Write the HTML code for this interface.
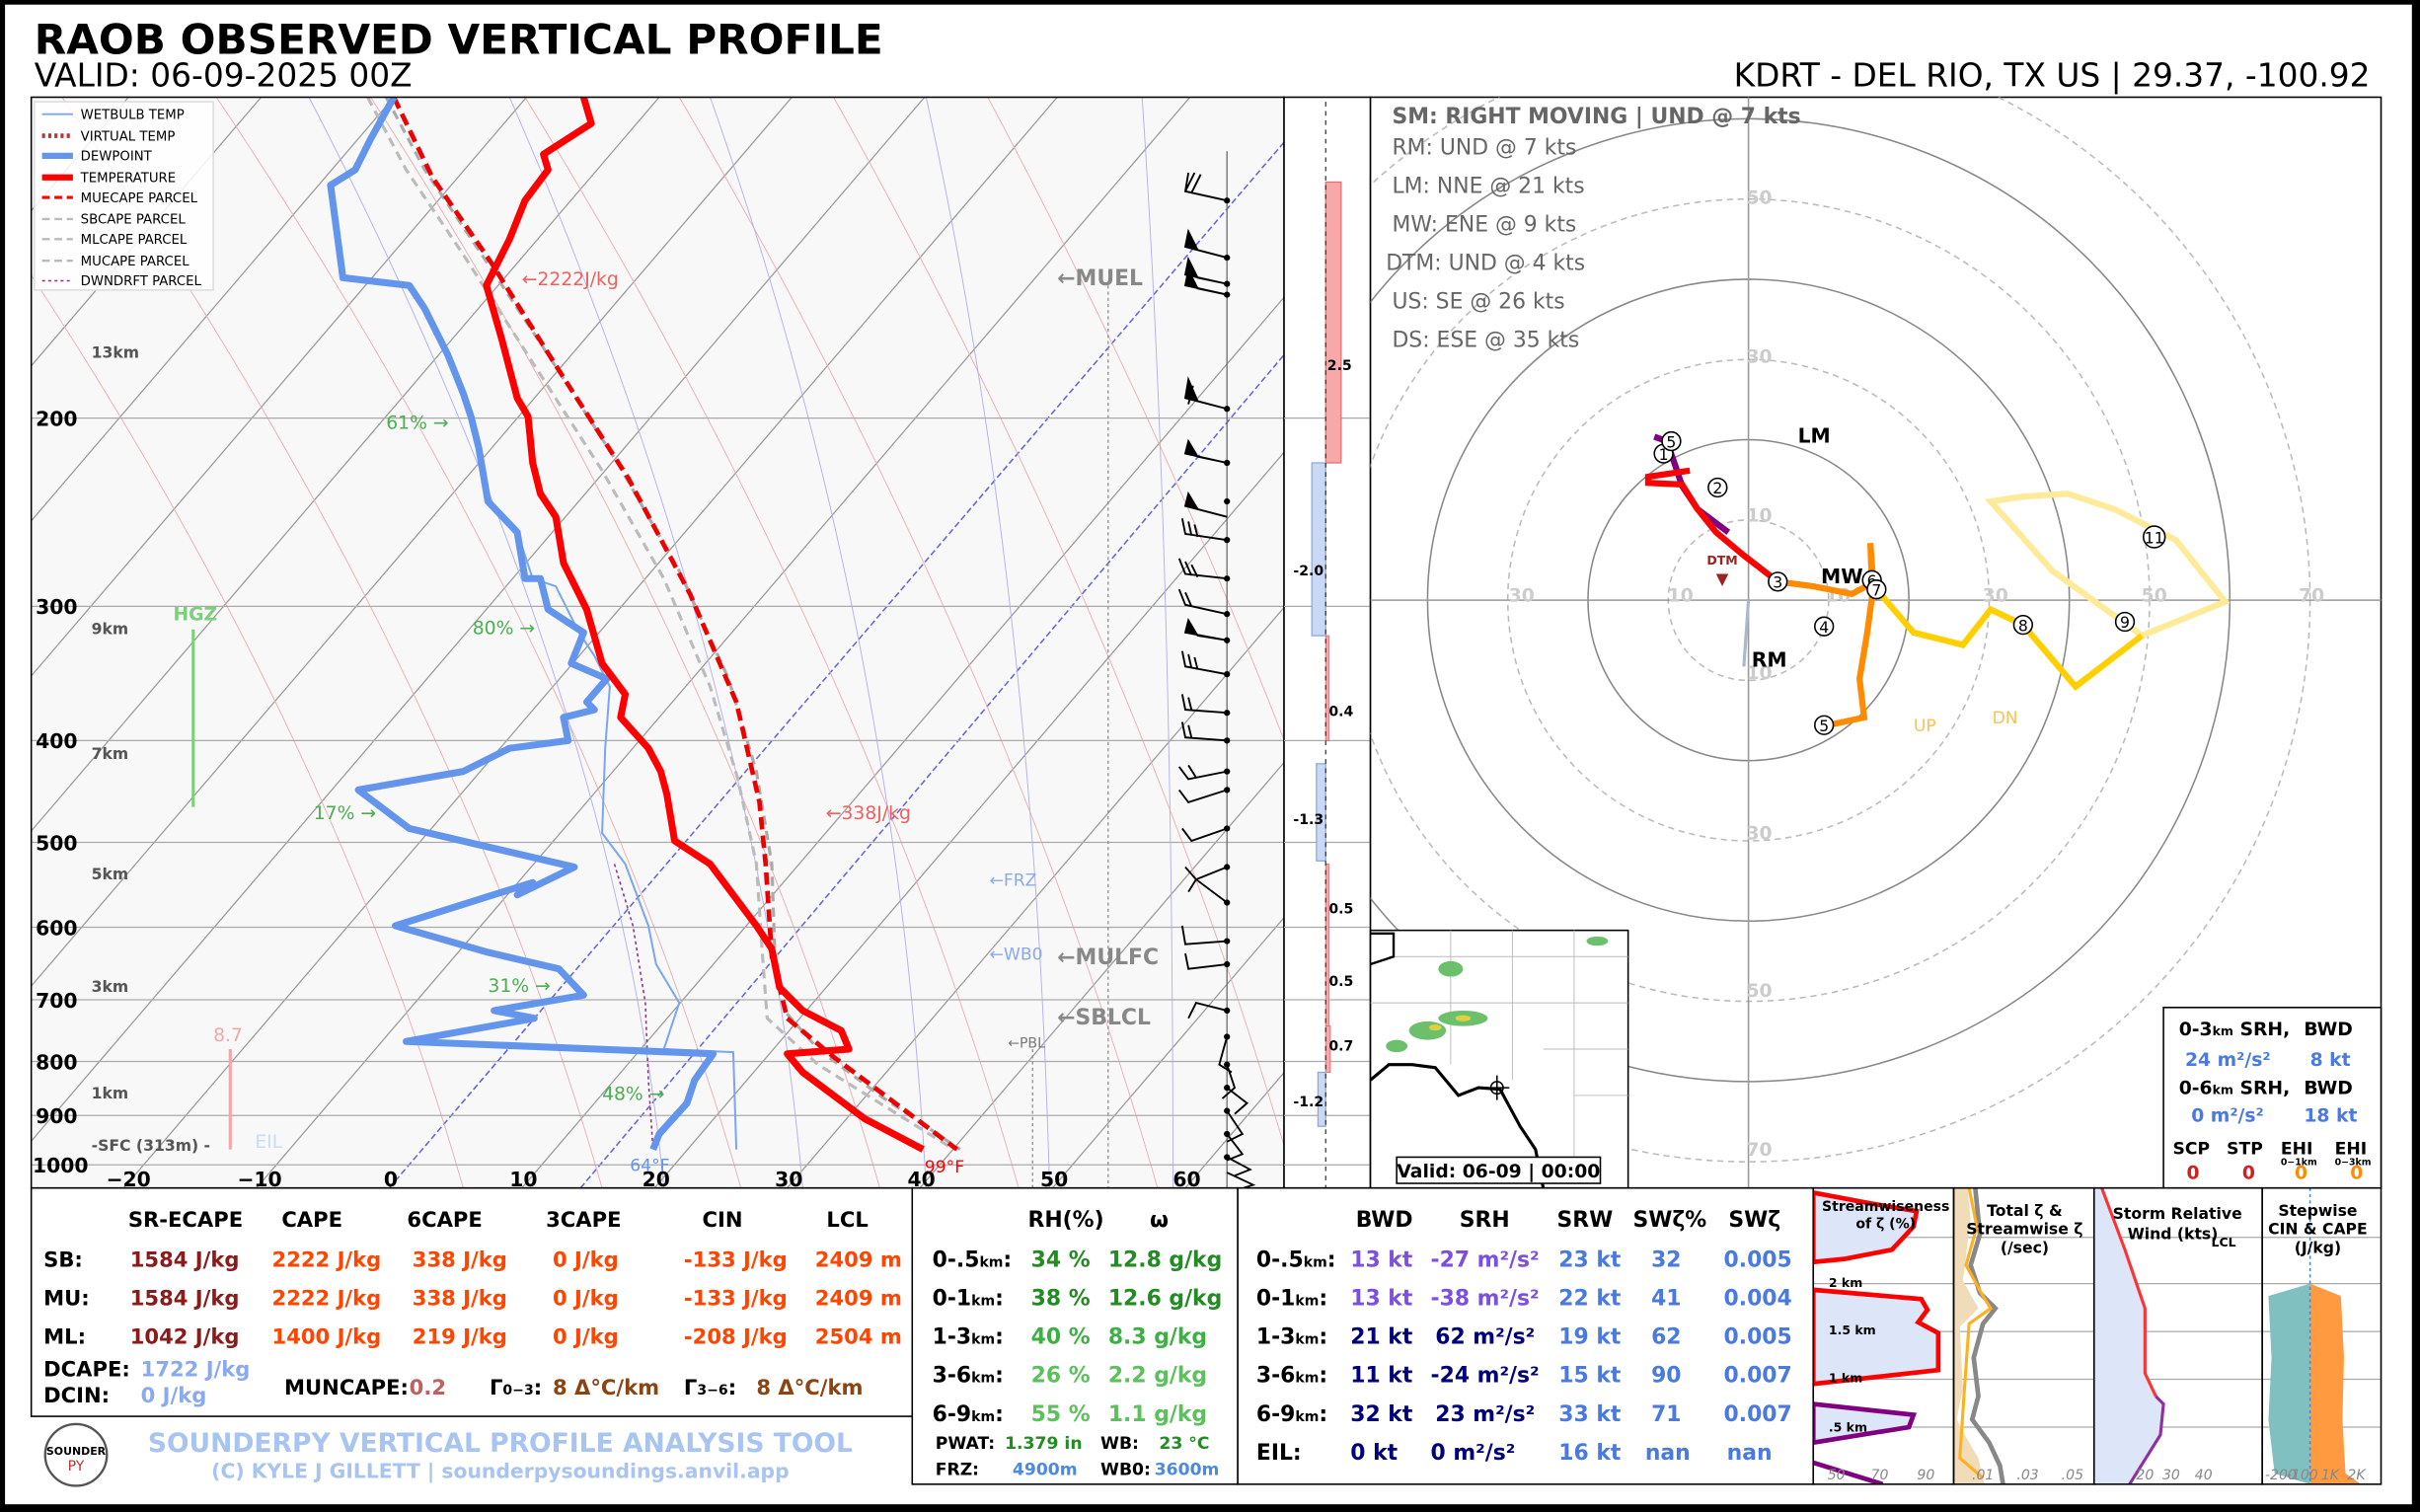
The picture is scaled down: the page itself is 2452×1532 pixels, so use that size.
<!DOCTYPE html>
<html><head><meta charset="utf-8"><style>
html,body{margin:0;padding:0;background:#000;}
svg{display:block;}
text{font-family:"DejaVu Sans","Liberation Sans",sans-serif;}
</style></head><body>
<svg width="2452" height="1532" viewBox="0 0 1568 980" xmlns="http://www.w3.org/2000/svg">
<defs>
<clipPath id="sk"><rect x="20" y="63" width="812" height="707"/></clipPath>
<clipPath id="hd"><rect x="888" y="63" width="655" height="707"/></clipPath>
<clipPath id="p1"><rect x="1175" y="770" width="91" height="192"/></clipPath>
<clipPath id="p2"><rect x="1266" y="770" width="91" height="192"/></clipPath>
<clipPath id="p3"><rect x="1357" y="770" width="109" height="192"/></clipPath>
<clipPath id="p4"><rect x="1466" y="770" width="77" height="192"/></clipPath>
</defs>
<rect x="0" y="0" width="1568" height="980" fill="#000"/>
<rect x="3" y="3" width="1560" height="972" fill="#fff"/>

<text x="22" y="35" font-size="27" font-weight="bold">RAOB OBSERVED VERTICAL PROFILE</text>
<text x="22" y="56" font-size="21">VALID: 06-09-2025 00Z</text>
<text x="1536" y="56" font-size="21" text-anchor="end">KDRT - DEL RIO, TX US | 29.37, -100.92</text>

<rect x="20" y="63" width="812" height="707" fill="#f8f8f8"/>
<g clip-path="url(#sk)">
 <g stroke="#999" stroke-width="0.8" fill="none">
  <line x1="-522" y1="770" x2="83" y2="63"/><line x1="-436" y1="770" x2="169" y2="63"/><line x1="-350" y1="770" x2="255" y2="63"/><line x1="-264" y1="770" x2="341" y2="63"/><line x1="-178" y1="770" x2="427" y2="63"/><line x1="-92" y1="770" x2="513" y2="63"/><line x1="-6" y1="770" x2="599" y2="63"/><line x1="80" y1="770" x2="685" y2="63"/><line x1="166" y1="770" x2="771" y2="63"/><line x1="338" y1="770" x2="943" y2="63"/><line x1="424" y1="770" x2="1029" y2="63"/><line x1="510" y1="770" x2="1115" y2="63"/><line x1="596" y1="770" x2="1201" y2="63"/><line x1="682" y1="770" x2="1287" y2="63"/><line x1="768" y1="770" x2="1373" y2="63"/>
 </g>
 <line x1="252" y1="770" x2="857" y2="63" stroke="#6666dd" stroke-width="1" stroke-dasharray="4,2"/>
 <line x1="376" y1="770" x2="973" y2="63" stroke="#6666dd" stroke-width="1" stroke-dasharray="4,2"/>
 <g stroke="#e8b0b0" stroke-width="0.6" fill="none">
  <path d="M300,770 Q200,420 -60,63"/><path d="M390,770 Q290,420 40,63"/><path d="M480,770 Q380,420 140,63"/><path d="M570,770 Q470,420 240,63"/><path d="M660,770 Q560,420 340,63"/><path d="M750,770 Q650,420 440,63"/><path d="M840,770 Q740,420 540,63"/><path d="M930,770 Q830,420 640,63"/>
 </g>
 <g stroke="#b0b0f0" stroke-width="0.6" fill="none">
  <path d="M430,770 Q400,450 200,63"/><path d="M520,770 Q490,430 330,63"/><path d="M600,770 Q580,400 460,63"/><path d="M680,770 Q670,380 600,63"/><path d="M760,770 Q760,360 740,63"/>
 </g>
 <g stroke="#aaa" stroke-width="0.8">
  <line x1="20" y1="271" x2="832" y2="271"/><line x1="20" y1="393" x2="832" y2="393"/><line x1="20" y1="480" x2="832" y2="480"/><line x1="20" y1="546" x2="832" y2="546"/><line x1="20" y1="601" x2="832" y2="601"/><line x1="20" y1="648" x2="832" y2="648"/><line x1="20" y1="688" x2="832" y2="688"/><line x1="20" y1="723" x2="832" y2="723"/><line x1="20" y1="755" x2="832" y2="755"/>
 </g>
 <line x1="718" y1="185" x2="718" y2="770" stroke="#888" stroke-dasharray="2,2" stroke-width="0.8"/>
 <line x1="669" y1="680" x2="669" y2="770" stroke="#888" stroke-dasharray="2,2" stroke-width="0.8"/>
 <polyline points="250,63 275,110 312,165 355,230 400,300 440,370 472,440 490,500 500,560 502,620 508,655 530,680 570,710 622,745" fill="none" stroke="#aaa" stroke-width="2" stroke-dasharray="6,4"/>
 <polyline points="238,63 263,110 300,165 345,235 390,305 430,375 460,445 478,505 490,560 494,620 497,660 530,690 618,745" fill="none" stroke="#bbb" stroke-width="2" stroke-dasharray="6,4"/>
 <polyline points="255,63 280,115 318,170 362,240 407,310 447,385 477,455 492,520 496,560 500,620 510,660 540,685 580,715 620,745" fill="none" stroke="#e00" stroke-width="3" stroke-dasharray="8,4"/>
 <polyline points="398,560 410,600 418,650 420,700 423,745" fill="none" stroke="#903090" stroke-width="1" stroke-dasharray="2,2"/>
 <polyline points="255,63 240,90 230,110 214,120 218,150 222,180 265,185 275,200 290,230 300,255 305,270 310,290 316,325 335,345 345,375 360,380 375,410 385,425 395,445 392,485 390,540 405,560 420,600 425,625 440,650 430,680 475,682 477,745" fill="none" stroke="#7aa7ef" stroke-width="1.3"/>
 <polyline points="255,63 240,90 230,110 214,120 218,150 222,180 265,185 275,200 290,230 300,255 305,270 310,290 316,325 335,345 340,375 350,375 355,395 378,410 370,430 393,440 380,455 385,460 365,465 368,480 330,485 300,500 232,512 265,537 372,562 335,580 345,572 256,600 315,617 362,628 378,645 320,655 346,660 263,675 462,683 450,700 445,715 427,735 423,745" fill="none" stroke="#6495ed" stroke-width="4.5" stroke-linejoin="round"/>
 <polyline points="378,63 383,80 352,100 355,110 340,130 330,155 315,185 325,220 335,258 342,270 345,300 350,320 360,335 365,365 380,395 390,430 405,450 402,465 420,485 428,500 432,515 437,545 460,560 475,580 490,600 500,615 505,640 520,655 545,668 550,680 510,683 520,695 560,725 598,745" fill="none" stroke="#f00" stroke-width="4.5" stroke-linejoin="round"/>
 <line x1="795" y1="98" x2="795" y2="770" stroke="#666" stroke-width="0.8"/>
 <g stroke="#000" stroke-width="1.2" fill="#000">
  <path d="M795,130 L768,124 L770,112 M768,124 L774,112 M772,125 L778,113" fill="none"/>
  <path d="M795,167 L768,160 L770,150 L776,162 Z"/>
  <path d="M795,184 L768,178 L770,168 L776,180 Z"/>
  <path d="M795,191 L768,185 L770,175 L776,187 Z"/>
  <path d="M795,265 L768,258 L770,246 L776,260 Z M770,262 L773,250" />
  <path d="M795,300 L768,294 L770,286 L776,296 Z"/>
  <path d="M795,335 L768,328 L770,320 L776,330 Z"/>
  <path d="M795,350 L768,346 L766,336 M772,347 L770,338 M776,348 L774,340" fill="none"/>
  <path d="M795,375 L768,372 L764,362 M772,373 L768,364 M776,374 L772,366" fill="none"/>
  <path d="M795,398 L768,392 L764,382 M772,393 L768,384" fill="none"/>
  <path d="M795,415 L768,410 L770,402 L776,412 Z"/>
  <path d="M795,437 L768,432 L766,422 M772,433 L770,424 M776,434 L774,426" fill="none"/>
  <path d="M795,462 L768,460 L766,450 M772,460 L770,452" fill="none"/>
  <path d="M795,480 L768,478 L766,468 M772,478 L770,470" fill="none"/>
  <path d="M795,500 L770,505 L764,497 M775,504 L770,496" fill="none"/>
  <path d="M795,512 L770,520 L764,512" fill="none"/>
  <path d="M795,537 L772,545 L766,537" fill="none"/>
  <path d="M795,562 L775,570 L768,562" fill="none"/>
  <path d="M795,585 L775,570 L770,578" fill="none"/>
  <path d="M795,610 L768,612 L766,600" fill="none"/>
  <path d="M795,625 L770,628 L768,618" fill="none"/>
  <path d="M795,655 L775,650 L770,660" fill="none"/>
  <path d="M795,672 L790,690 L798,695" fill="none"/>
  <path d="M795,690 L800,705 L792,712" fill="none"/>
  <path d="M795,705 L808,715 L800,722" fill="none"/>
  <path d="M795,720 L805,735 L795,740" fill="none"/>
  <path d="M795,735 L805,748 L795,752" fill="none"/>
  <path d="M795,750 L810,758 L800,762" fill="none"/>
  <path d="M795,760 L812,768 L790,775" fill="none"/>
 </g>
 <g fill="#000">
  <circle cx="795" cy="130" r="2"/><circle cx="795" cy="167" r="2"/><circle cx="795" cy="184" r="2"/><circle cx="795" cy="191" r="2"/><circle cx="795" cy="265" r="2"/><circle cx="795" cy="300" r="2"/><circle cx="795" cy="325" r="2"/><circle cx="795" cy="350" r="2"/><circle cx="795" cy="375" r="2"/><circle cx="795" cy="398" r="2"/><circle cx="795" cy="415" r="2"/><circle cx="795" cy="437" r="2"/><circle cx="795" cy="462" r="2"/><circle cx="795" cy="480" r="2"/><circle cx="795" cy="500" r="2"/><circle cx="795" cy="512" r="2"/><circle cx="795" cy="537" r="2"/><circle cx="795" cy="562" r="2"/><circle cx="795" cy="585" r="2"/><circle cx="795" cy="610" r="2"/><circle cx="795" cy="625" r="2"/><circle cx="795" cy="655" r="2"/><circle cx="795" cy="672" r="2"/><circle cx="795" cy="690" r="2"/><circle cx="795" cy="705" r="2"/><circle cx="795" cy="720" r="2"/><circle cx="795" cy="735" r="2"/><circle cx="795" cy="750" r="2"/>
 </g>
</g>
<g font-size="12" font-weight="bold" fill="#555">
 <text x="59" y="232" font-size="10">13km</text><text x="59" y="411" font-size="10">9km</text><text x="59" y="492" font-size="10">7km</text><text x="59" y="570" font-size="10">5km</text><text x="59" y="643" font-size="10">3km</text><text x="59" y="712" font-size="10">1km</text><text x="59" y="746" font-size="10">-SFC (313m) -</text>
</g>
<text x="338" y="185" font-size="12" fill="#f06060">←2222J/kg</text>
<text x="535" y="531" font-size="12" fill="#f06060">←338J/kg</text>
<g font-size="12" fill="#4caf50"><text x="250" y="278">61% →</text><text x="306" y="411">80% →</text><text x="203" y="531">17% →</text><text x="316" y="643">31% →</text><text x="390" y="713">48% →</text></g>
<g font-size="14" font-weight="bold" fill="#888"><text x="685" y="185">←MUEL</text><text x="685" y="625">←MULFC</text><text x="685" y="664">←SBLCL</text></g>
<g font-size="11" fill="#8aaaee"><text x="641" y="574">←FRZ</text><text x="641" y="622">←WB0</text></g>
<text x="653" y="679" font-size="9" fill="#777">←PBL</text>
<text x="112" y="402" font-size="12" font-weight="bold" fill="#7ccf7c">HGZ</text>
<line x1="125" y1="408" x2="125" y2="523" stroke="#7ccf7c" stroke-width="2"/>
<text x="138" y="675" font-size="12" fill="#f0a8a8">8.7</text>
<line x1="149" y1="680" x2="149" y2="745" stroke="#f0a8a8" stroke-width="2"/>
<text x="165" y="744" font-size="12" fill="#c8ddf5">EIL</text>
<text x="408" y="759" font-size="11" fill="#6495ed">64°F</text>
<text x="599" y="760" font-size="11" fill="#f00">99°F</text>
<rect x="22" y="66" width="116" height="122" fill="#fff" fill-opacity="0.85" stroke="#ddd"/>
<g font-size="8.5">
 <line x1="27" y1="74" x2="47" y2="74" stroke="#7aa7ef" stroke-width="1.2"/><text x="52" y="77">WETBULB TEMP</text>
 <line x1="27" y1="88" x2="47" y2="88" stroke="#c03030" stroke-width="3" stroke-dasharray="2,2"/><text x="52" y="91">VIRTUAL TEMP</text>
 <line x1="27" y1="101" x2="47" y2="101" stroke="#6495ed" stroke-width="4"/><text x="52" y="104">DEWPOINT</text>
 <line x1="27" y1="115" x2="47" y2="115" stroke="#f00" stroke-width="4"/><text x="52" y="118">TEMPERATURE</text>
 <line x1="27" y1="128" x2="47" y2="128" stroke="#f00" stroke-width="2" stroke-dasharray="5,3"/><text x="52" y="131">MUECAPE PARCEL</text>
 <line x1="27" y1="142" x2="47" y2="142" stroke="#bbb" stroke-width="1.5" stroke-dasharray="5,3"/><text x="52" y="145">SBCAPE PARCEL</text>
 <line x1="27" y1="155" x2="47" y2="155" stroke="#bbb" stroke-width="1.5" stroke-dasharray="5,3"/><text x="52" y="158">MLCAPE PARCEL</text>
 <line x1="27" y1="169" x2="47" y2="169" stroke="#bbb" stroke-width="1.5" stroke-dasharray="5,3"/><text x="52" y="172">MUCAPE PARCEL</text>
 <line x1="27" y1="182" x2="47" y2="182" stroke="#903090" stroke-width="1" stroke-dasharray="2,2"/><text x="52" y="185">DWNDRFT PARCEL</text>
</g>
<rect x="20" y="63" width="812" height="707" fill="none" stroke="#000" stroke-width="1"/>
<g font-size="13" font-weight="bold" text-anchor="end">
 <text x="50" y="276">200</text><text x="50" y="398">300</text><text x="50" y="485">400</text><text x="50" y="551">500</text><text x="50" y="606">600</text><text x="50" y="653">700</text><text x="50" y="693">800</text><text x="50" y="728">900</text><text x="57" y="760">1000</text>
</g>
<g font-size="13" font-weight="bold" text-anchor="middle">
 <text x="83" y="769">−20</text><text x="168" y="769">−10</text><text x="253" y="769">0</text><text x="339" y="769">10</text><text x="425" y="769">20</text><text x="511" y="769">30</text><text x="597" y="769">40</text><text x="683" y="769">50</text><text x="769" y="769">60</text>
</g>

<rect x="832" y="63" width="56" height="707" fill="#fff" stroke="#000"/>
<g stroke="#aaa" stroke-width="0.8"><line x1="832" y1="271" x2="888" y2="271"/><line x1="832" y1="393" x2="888" y2="393"/><line x1="832" y1="480" x2="888" y2="480"/><line x1="832" y1="546" x2="888" y2="546"/><line x1="832" y1="601" x2="888" y2="601"/><line x1="832" y1="648" x2="888" y2="648"/><line x1="832" y1="688" x2="888" y2="688"/><line x1="832" y1="723" x2="888" y2="723"/><line x1="832" y1="755" x2="888" y2="755"/></g>
<rect x="859" y="118" width="10" height="182" fill="#f8a8a8" stroke="#e07070" stroke-width="0.8"/>
<rect x="850" y="300" width="9" height="112" fill="#c8d8f5" stroke="#8aa8e0" stroke-width="0.8"/>
<rect x="859" y="412" width="2" height="68" fill="#f8a8a8" stroke="#e07070" stroke-width="0.6"/>
<rect x="853" y="495" width="6" height="63" fill="#c8d8f5" stroke="#8aa8e0" stroke-width="0.8"/>
<rect x="859" y="560" width="2" height="105" fill="#f8a8a8" stroke="#e07070" stroke-width="0.6"/>
<rect x="859" y="665" width="3" height="30" fill="#f8a8a8" stroke="#e07070" stroke-width="0.6"/>
<rect x="854" y="695" width="5" height="35" fill="#c8d8f5" stroke="#8aa8e0" stroke-width="0.8"/>
<line x1="859" y1="66" x2="859" y2="770" stroke="#333" stroke-dasharray="3,3" stroke-width="0.8"/>
<g font-size="9" font-weight="bold"><text x="860" y="240">2.5</text><text x="838" y="373">-2.0</text><text x="861" y="464">0.4</text><text x="838" y="534">-1.3</text><text x="861" y="592">0.5</text><text x="861" y="639">0.5</text><text x="861" y="681">0.7</text><text x="838" y="717">-1.2</text></g>

<rect x="888" y="63" width="655" height="707" fill="#fff" stroke="#000"/>
<g clip-path="url(#hd)">
 <g fill="none">
  <circle cx="1133" cy="389" r="52" stroke="#bbb" stroke-dasharray="4,3"/>
  <circle cx="1133" cy="389" r="104" stroke="#888"/>
  <circle cx="1133" cy="389" r="156" stroke="#bbb" stroke-dasharray="4,3"/>
  <circle cx="1133" cy="389" r="208" stroke="#888"/>
  <circle cx="1133" cy="389" r="260" stroke="#bbb" stroke-dasharray="4,3"/>
  <circle cx="1133" cy="389" r="312" stroke="#888"/>
  <circle cx="1133" cy="389" r="364" stroke="#bbb" stroke-dasharray="4,3"/>
 </g>
 <line x1="888" y1="389" x2="1543" y2="389" stroke="#999"/>
 <line x1="1133" y1="63" x2="1133" y2="770" stroke="#999"/>
 <g font-size="12" font-weight="bold" fill="#ccc" text-anchor="middle">
  <text x="986" y="390">30</text><text x="1089" y="390">10</text><text x="1191" y="390">10</text><text x="1293" y="390">30</text><text x="1396" y="390">50</text><text x="1498" y="390">70</text>
  <text x="1140" y="338">10</text><text x="1140" y="235">30</text><text x="1140" y="132">50</text><text x="1140" y="440">10</text><text x="1140" y="544">30</text><text x="1140" y="646">50</text><text x="1140" y="749">70</text>
 </g>
 <line x1="1133" y1="389" x2="1130" y2="432" stroke="#aab8c8" stroke-width="2"/>
 <polyline points="1388,412 1442,390 1410,350 1370,330 1340,320 1310,322 1290,325 1330,370 1388,412" fill="none" stroke="#fdeb9a" stroke-width="4"/>
 <polyline points="1216,382 1240,410 1272,418 1290,395 1311,405 1345,445 1388,412" fill="none" stroke="#ffd000" stroke-width="4"/>
 <polyline points="1152,377 1175,380 1200,385 1213,378 1212,352 1214,380 1210,410 1205,440 1208,465 1185,470" fill="none" stroke="#ff8c00" stroke-width="4"/>
 <polyline points="1120,345 1100,330 1090,315 1085,300 1080,286 1072,283" fill="none" stroke="#800080" stroke-width="4"/>
 <polyline points="1152,377 1130,360 1112,345 1100,330 1090,314 1068,313 1068,309 1095,305" fill="none" stroke="#f00" stroke-width="4"/>
 <g font-size="10" text-anchor="middle" fill="#000">
  <circle cx="1078" cy="294" r="6" fill="#fff" stroke="#000"/><text x="1078" y="298">1</text>
  <circle cx="1083" cy="286" r="6" fill="#fff" stroke="#000"/><text x="1083" y="290">5</text>
  <circle cx="1113" cy="316" r="6" fill="#fff" stroke="#000"/><text x="1113" y="320">2</text>
  <circle cx="1152" cy="377" r="6" fill="#fff" stroke="#000"/><text x="1152" y="381">3</text>
  <circle cx="1182" cy="406" r="6" fill="#fff" stroke="#000"/><text x="1182" y="410">4</text>
  <circle cx="1182" cy="470" r="6" fill="#fff" stroke="#000"/><text x="1182" y="474">5</text>
  <circle cx="1213" cy="376" r="6" fill="#fff" stroke="#000"/><text x="1213" y="380">6</text>
  <circle cx="1216" cy="382" r="6" fill="#fff" stroke="#000"/><text x="1216" y="386">7</text>
  <circle cx="1311" cy="405" r="6" fill="#fff" stroke="#000"/><text x="1311" y="409">8</text>
  <circle cx="1377" cy="403" r="6" fill="#fff" stroke="#000"/><text x="1377" y="407">9</text>
  <circle cx="1396" cy="348" r="7" fill="#fff" stroke="#000"/><text x="1396" y="352">11</text>
 </g>
 <g font-size="13" font-weight="bold"><text x="1165" y="287">LM</text><text x="1180" y="378">MW</text><text x="1135" y="432">RM</text></g>
 <text x="1116" y="366" font-size="8" font-weight="bold" fill="#a02020" text-anchor="middle">DTM</text>
 <path d="M1112,372 L1120,372 L1116,380 Z" fill="#a02020"/>
 <text x="1240" y="474" font-size="11" fill="#ffc050">UP</text>
 <text x="1291" y="469" font-size="11" fill="#ffc050">DN</text>
 <g font-size="14" fill="#666">
  <text x="902" y="80" font-weight="bold">SM: RIGHT MOVING | UND @ 7 kts</text>
  <text x="902" y="100">RM: UND @ 7 kts</text>
  <text x="902" y="125">LM: NNE @ 21 kts</text>
  <text x="902" y="150">MW: ENE @ 9 kts</text>
  <text x="898" y="175">DTM: UND @ 4 kts</text>
  <text x="902" y="200">US: SE @ 26 kts</text>
  <text x="902" y="225">DS: ESE @ 35 kts</text>
 </g>
</g>
<rect x="888" y="603" width="167" height="167" fill="#fff" stroke="#000"/>
<g stroke="#bbb" stroke-width="0.6" fill="none">
 <path d="M900,620 L1055,620 M940,603 L940,690 M980,603 L980,700 M1020,603 L1020,760 M888,650 L1055,650 M1000,680 L1055,680 M1020,710 L1055,710"/>
</g>
<path d="M888,605 L903,605 L903,620 L888,625" fill="none" stroke="#000" stroke-width="1.5"/>
<path d="M888,700 L900,690 L915,690 L930,692 L945,710 L958,705 L972,706 L985,730 L995,745 L1000,770" fill="none" stroke="#000" stroke-width="2"/>
<g fill="#6cc06c"><ellipse cx="940" cy="628" rx="8" ry="5"/><ellipse cx="925" cy="668" rx="12" ry="6"/><ellipse cx="948" cy="660" rx="16" ry="5"/><ellipse cx="905" cy="678" rx="7" ry="4"/><ellipse cx="1035" cy="610" rx="7" ry="3"/></g>
<g fill="#e0d040"><ellipse cx="930" cy="666" rx="4" ry="2"/><ellipse cx="948" cy="660" rx="5" ry="2"/></g>
<g stroke="#000" stroke-width="1" fill="none"><circle cx="970" cy="705" r="4"/><line x1="962" y1="705" x2="978" y2="705"/><line x1="970" y1="697" x2="970" y2="713"/></g>
<rect x="905" y="750" width="132" height="17" fill="#fff" stroke="#000"/>
<text x="971" y="763" font-size="12" font-weight="bold" text-anchor="middle">Valid: 06-09 | 00:00</text>
<rect x="1402" y="653" width="141" height="117" fill="#fff" stroke="#000"/>
<g font-size="12" font-weight="bold">
 <text x="1412" y="671">0-3<tspan font-size="8">km</tspan> SRH,</text><text x="1493" y="671">BWD</text>
 <text x="1416" y="691" fill="#4a7ae0">24 m²/s²</text><text x="1497" y="691" fill="#4a7ae0">8 kt</text>
 <text x="1412" y="709">0-6<tspan font-size="8">km</tspan> SRH,</text><text x="1493" y="709">BWD</text>
 <text x="1420" y="727" fill="#4a7ae0">0 m²/s²</text><text x="1493" y="727" fill="#4a7ae0">18 kt</text>
 <text x="1408" y="748" font-size="11">SCP</text><text x="1443" y="748" font-size="11">STP</text><text x="1478" y="748" font-size="11">EHI</text><text x="1513" y="748" font-size="11">EHI</text>
 <text x="1478" y="755" font-size="6">0−1km</text><text x="1513" y="755" font-size="6">0−3km</text>
 <text x="1417" y="764" fill="#d02020">0</text><text x="1453" y="764" fill="#d02020">0</text><text x="1487" y="764" fill="#ff8c00">0</text><text x="1523" y="764" fill="#ff8c00">0</text>
</g>

<rect x="20" y="770" width="571" height="148" fill="#fff" stroke="#000"/>
<g font-size="13.5" font-weight="bold">
 <g text-anchor="middle"><text x="120" y="795">SR-ECAPE</text><text x="202" y="795">CAPE</text><text x="288" y="795">6CAPE</text><text x="378" y="795">3CAPE</text><text x="468" y="795">CIN</text><text x="549" y="795">LCL</text></g>
 <text x="28" y="821">SB:</text><text x="28" y="846">MU:</text><text x="28" y="871">ML:</text>
 <g fill="#8b1a1a"><text x="84" y="821">1584 J/kg</text><text x="84" y="846">1584 J/kg</text><text x="84" y="871">1042 J/kg</text></g>
 <g fill="#ff4500">
  <text x="176" y="821">2222 J/kg</text><text x="176" y="846">2222 J/kg</text><text x="176" y="871">1400 J/kg</text>
  <text x="267" y="821">338 J/kg</text><text x="267" y="846">338 J/kg</text><text x="267" y="871">219 J/kg</text>
  <text x="358" y="821">0 J/kg</text><text x="358" y="846">0 J/kg</text><text x="358" y="871">0 J/kg</text>
  <text x="443" y="821">-133 J/kg</text><text x="443" y="846">-133 J/kg</text><text x="443" y="871">-208 J/kg</text>
  <text x="528" y="821">2409 m</text><text x="528" y="846">2409 m</text><text x="528" y="871">2504 m</text>
 </g>
 <text x="28" y="892">DCAPE:</text><text x="91" y="892" fill="#8aaaee">1722 J/kg</text>
 <text x="28" y="909">DCIN:</text><text x="91" y="909" fill="#8aaaee">0 J/kg</text>
 <text x="184" y="904">MUNCAPE:</text><text x="265" y="904" fill="#c06060">0.2</text>
 <text x="317" y="904">Γ<tspan font-size="9">0−3</tspan>:</text><text x="358" y="904" fill="#8b4513">8 Δ°C/km</text>
 <text x="443" y="904">Γ<tspan font-size="9">3−6</tspan>:</text><text x="490" y="904" fill="#8b4513">8 Δ°C/km</text>
</g>
<circle cx="49" cy="943" r="20" fill="#fff" stroke="#555" stroke-width="1.5"/>
<text x="49" y="943" font-size="7" font-weight="bold" text-anchor="middle">SOUNDER</text>
<text x="49" y="953" font-size="9" fill="#c03030" text-anchor="middle">PY</text>
<text x="324" y="941" font-size="17" font-weight="bold" fill="#a8c4f0" text-anchor="middle">SOUNDERPY VERTICAL PROFILE ANALYSIS TOOL</text>
<text x="324" y="958" font-size="13" font-weight="bold" fill="#a8c4f0" text-anchor="middle">(C) KYLE J GILLETT | sounderpysoundings.anvil.app</text>

<rect x="591" y="770" width="211" height="192" fill="#fff" stroke="#000"/>
<g font-size="14" font-weight="bold">
 <text x="666" y="795">RH(%)</text><text x="745" y="795">ω</text>
 <text x="604" y="821">0-.5<tspan font-size="9">km</tspan>:</text><text x="604" y="846">0-1<tspan font-size="9">km</tspan>:</text><text x="604" y="871">1-3<tspan font-size="9">km</tspan>:</text><text x="604" y="896">3-6<tspan font-size="9">km</tspan>:</text><text x="604" y="921">6-9<tspan font-size="9">km</tspan>:</text>
 <g fill="#228b22"><text x="668" y="821">34 %</text><text x="718" y="821">12.8 g/kg</text><text x="668" y="846">38 %</text><text x="718" y="846">12.6 g/kg</text></g>
 <g fill="#3cb043"><text x="668" y="871">40 %</text><text x="718" y="871">8.3 g/kg</text></g>
 <g fill="#5cc05c"><text x="668" y="896">26 %</text><text x="718" y="896">2.2 g/kg</text><text x="668" y="921">55 %</text><text x="718" y="921">1.1 g/kg</text></g>
</g>
<g font-size="11" font-weight="bold">
 <text x="606" y="939">PWAT:</text><text x="651" y="939" fill="#228b22">1.379 in</text><text x="713" y="939">WB:</text><text x="751" y="939" fill="#228b22">23 °C</text>
 <text x="606" y="956">FRZ:</text><text x="656" y="956" fill="#4a8ae0">4900m</text><text x="713" y="956">WB0:</text><text x="748" y="956" fill="#4a8ae0">3600m</text>
</g>

<rect x="802" y="770" width="373" height="192" fill="#fff" stroke="#000"/>
<g font-size="14" font-weight="bold">
 <g text-anchor="middle"><text x="897" y="795">BWD</text><text x="962" y="795">SRH</text><text x="1027" y="795">SRW</text><text x="1082" y="795">SWζ%</text><text x="1137" y="795">SWζ</text></g>
 <text x="814" y="821">0-.5<tspan font-size="9">km</tspan>:</text><text x="814" y="846">0-1<tspan font-size="9">km</tspan>:</text><text x="814" y="871">1-3<tspan font-size="9">km</tspan>:</text><text x="814" y="896">3-6<tspan font-size="9">km</tspan>:</text><text x="814" y="921">6-9<tspan font-size="9">km</tspan>:</text><text x="814" y="946">EIL:</text>
 <g fill="#7b4fe0"><text x="875" y="821">13 kt</text><text x="927" y="821">-27 m²/s²</text><text x="875" y="846">13 kt</text><text x="927" y="846">-38 m²/s²</text></g>
 <g fill="#00007a"><text x="875" y="871">21 kt</text><text x="930" y="871">62 m²/s²</text><text x="875" y="896">11 kt</text><text x="927" y="896">-24 m²/s²</text><text x="875" y="921">32 kt</text><text x="930" y="921">23 m²/s²</text><text x="875" y="946">0 kt</text><text x="927" y="946">0 m²/s²</text></g>
 <g fill="#4a7ae0"><text x="1010" y="821">23 kt</text><text x="1010" y="846">22 kt</text><text x="1010" y="871">19 kt</text><text x="1010" y="896">15 kt</text><text x="1010" y="921">33 kt</text><text x="1010" y="946">16 kt</text>
 <text x="1070" y="821">32</text><text x="1070" y="846">41</text><text x="1070" y="871">62</text><text x="1070" y="896">90</text><text x="1070" y="921">71</text><text x="1066" y="946">nan</text>
 <text x="1117" y="821">0.005</text><text x="1117" y="846">0.004</text><text x="1117" y="871">0.005</text><text x="1117" y="896">0.007</text><text x="1117" y="921">0.007</text><text x="1119" y="946">nan</text></g>
</g>

<g stroke="#aaa" stroke-width="0.8"><line x1="1175" y1="802" x2="1543" y2="802"/><line x1="1175" y1="832" x2="1543" y2="832"/><line x1="1175" y1="863" x2="1543" y2="863"/><line x1="1175" y1="894" x2="1543" y2="894"/><line x1="1175" y1="925" x2="1543" y2="925"/></g>
<g clip-path="url(#p1)">
 <path d="M1175,773 L1212,780 L1242,785 L1240,795 L1226,810 L1195,816 L1175,818 Z" fill="#dde6f8" stroke="#f00" stroke-width="3"/>
 <path d="M1175,836 L1245,842 L1249,849 L1243,857 L1256,864 L1256,888 L1175,897 Z" fill="#dde6f8" stroke="#f00" stroke-width="3"/>
 <path d="M1175,910 L1240,917 L1237,925 L1175,935 Z" fill="#dde6f8" stroke="#800080" stroke-width="3"/>
 <path d="M1175,948 L1220,962" fill="none" stroke="#800080" stroke-width="3"/>
</g>
<g clip-path="url(#p2)">
 <path d="M1266,770 L1275,770 L1277,790 L1272,830 L1282,848 L1270,860 L1272,900 L1268,920 L1276,935 L1282,945 L1286,962 L1266,962 Z" fill="#f0dcb8"/>
 <polyline points="1280,770 1283,800 1277,820 1283,838 1293,848 1285,858 1279,880 1282,905 1278,920 1289,935 1296,950 1298,962" fill="none" stroke="#888" stroke-width="3"/>
 <polyline points="1276,770 1281,795 1274,820 1285,840 1290,848 1276,858 1273,900 1270,945 1285,958" fill="none" stroke="#ffb020" stroke-width="2"/>
</g>
<g clip-path="url(#p3)">
 <path d="M1357,770 L1362,770 L1377,810 L1390,848 L1390,890 L1402,910 L1400,930 L1380,962 L1357,962 Z" fill="#dde6f8"/>
 <polyline points="1362,770 1377,810 1390,848 1390,890 1397,905" fill="none" stroke="#f33" stroke-width="2"/>
 <polyline points="1397,905 1402,910 1400,930 1380,962" fill="none" stroke="#9030a0" stroke-width="2"/>
</g>
<g clip-path="url(#p4)">
 <path d="M1497,832 L1470,840 L1472,880 L1470,920 L1474,955 L1497,962 Z" fill="#80c0c0"/>
 <path d="M1497,832 L1517,840 L1519,880 L1518,920 L1520,955 L1530,962 L1497,962 Z" fill="#ff9a40"/>
 <line x1="1497" y1="770" x2="1497" y2="962" stroke="#4a88cc" stroke-dasharray="2,2"/>
</g>
<g fill="none" stroke="#000"><rect x="1175" y="770" width="91" height="192"/><rect x="1266" y="770" width="91" height="192"/><rect x="1357" y="770" width="109" height="192"/><rect x="1466" y="770" width="77" height="192"/></g>
<g font-size="10" font-weight="bold" text-anchor="middle">
 <text x="1222" y="785" font-size="9">Streamwiseness</text><text x="1222" y="796" font-size="9">of ζ (%)</text>
 <text x="1312" y="788">Total ζ &amp;</text><text x="1312" y="800">Streamwise ζ</text><text x="1312" y="812">(/sec)</text>
 <text x="1411" y="790">Storm Relative</text><text x="1408" y="803">Wind (kts)</text>
 <text x="1502" y="788">Stepwise</text><text x="1502" y="800">CIN &amp; CAPE</text><text x="1502" y="812">(J/kg)</text>
 <text x="1441" y="808" font-size="8">LCL</text>
</g>
<g font-size="8" font-weight="bold"><text x="1185" y="834">2 km</text><text x="1185" y="865">1.5 km</text><text x="1185" y="896">1 km</text><text x="1185" y="928">.5 km</text></g>
<g font-size="9" font-style="italic" fill="#888" text-anchor="middle">
 <text x="1190" y="959">50</text><text x="1218" y="959">70</text><text x="1248" y="959">90</text>
 <text x="1285" y="959">.01</text><text x="1314" y="959">.03</text><text x="1343" y="959">.05</text>
 <text x="1390" y="959">20</text><text x="1407" y="959">30</text><text x="1428" y="959">40</text>
 <text x="1478" y="959">-200</text><text x="1492" y="959">-100</text><text x="1510" y="959">1K</text><text x="1527" y="959">2K</text>
</g>
</svg>
</body></html>
